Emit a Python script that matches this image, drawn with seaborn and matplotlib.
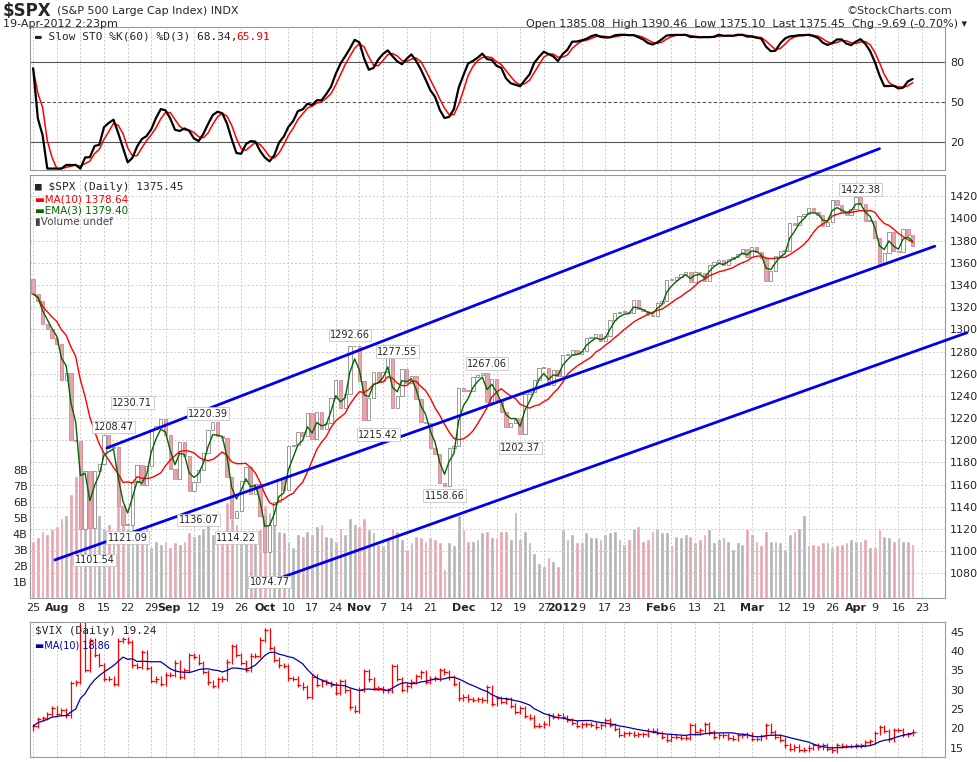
import pandas as pd
import numpy as np
import matplotlib
matplotlib.use("Agg")
import matplotlib.pyplot as plt
import seaborn as sns

# ---------------- data ----------------
holidays = ["2011-09-05", "2011-11-24", "2011-12-26", "2012-01-02",
            "2012-01-16", "2012-02-20", "2012-04-06"]
all_days = pd.bdate_range("2011-07-25", "2012-04-30")
all_days = all_days[~all_days.isin(pd.to_datetime(holidays))]

spx_close = [
    # Jul
    1331.9, 1325.8, 1304.9, 1300.7, 1292.3,
    # Aug
    1287.0, 1254.0, 1260.3, 1200.1, 1199.4, 1119.5, 1172.5, 1120.8, 1172.6, 1178.8,
    1204.5, 1192.8, 1193.9, 1140.7, 1123.5, 1123.8, 1162.4, 1177.6, 1159.3, 1176.8,
    1210.1, 1212.9, 1218.9,
    # Sep
    1204.4, 1173.9, 1165.2, 1198.6, 1185.9, 1154.2, 1162.3, 1172.9, 1188.7, 1209.1,
    1216.0, 1204.1, 1202.1, 1166.8, 1129.6, 1136.4, 1162.9, 1175.4, 1151.1, 1160.4,
    1131.4,
    # Oct
    1099.2, 1123.9, 1144.0, 1164.9, 1155.5, 1194.9, 1195.5, 1207.2, 1203.7, 1224.6,
    1200.9, 1225.4, 1209.9, 1215.4, 1238.3, 1254.2, 1229.1, 1242.0, 1284.6, 1285.1,
    1253.3,
    # Nov
    1218.3, 1237.9, 1261.2, 1253.2, 1261.1, 1275.9, 1229.1, 1239.7, 1263.9, 1251.8,
    1257.8, 1236.9, 1216.1, 1215.7, 1192.9, 1188.0, 1161.8, 1158.7, 1192.6, 1195.2,
    1246.9,
    # Dec
    1244.6, 1244.3, 1257.1, 1258.5, 1261.0, 1234.4, 1255.2, 1236.5, 1225.7, 1211.8,
    1215.8, 1219.7, 1205.4, 1241.3, 1243.7, 1254.0, 1265.3, 1265.4, 1249.6, 1263.0,
    1257.6,
    # Jan
    1277.1, 1277.3, 1281.1, 1277.8, 1280.7, 1292.1, 1292.5, 1295.5, 1289.1, 1293.7,
    1308.0, 1314.5, 1315.4, 1316.0, 1314.7, 1326.1, 1318.4, 1316.3, 1313.0, 1312.4,
    # Feb
    1324.1, 1325.5, 1344.9, 1344.3, 1347.1, 1349.9, 1351.9, 1342.6, 1351.8, 1350.5,
    1343.2, 1358.0, 1361.2, 1362.2, 1357.7, 1363.5, 1365.7, 1367.6, 1372.2, 1365.7,
    # Mar
    1374.1, 1369.6, 1364.3, 1343.4, 1352.6, 1366.0, 1370.9, 1371.1, 1395.9, 1394.3,
    1402.6, 1404.2, 1409.8, 1405.5, 1402.9, 1392.8, 1397.1, 1416.5, 1412.5, 1405.5,
    1403.3, 1408.5,
    # Apr
    1419.0, 1413.4, 1398.0, 1398.1, 1382.2, 1358.6, 1368.7, 1387.6, 1370.3, 1369.6,
    1390.8, 1385.1, 1375.5,
]

spx_volume_b = [
    3.6, 3.8, 4.2, 4.0, 4.3,
    4.5, 5.0, 5.2, 6.5, 7.6, 8.2, 7.2, 7.8, 6.1, 5.2, 4.4, 4.6, 4.0, 5.8, 5.4,
    4.4, 4.6, 3.9, 3.8, 4.5, 3.2, 3.6, 3.4,
    3.6, 3.2, 3.5, 3.4, 3.6, 4.1, 3.9, 4.0, 4.4, 4.7, 4.0, 3.8, 4.0, 6.0, 5.0,
    4.6, 4.2, 4.0, 4.2, 4.1, 4.3,
    5.8, 5.4, 4.8, 4.2, 4.1, 3.6, 3.2, 4.0, 3.9, 4.2, 4.0, 4.5, 4.6, 3.9, 3.8,
    3.6, 4.4, 4.0, 5.0, 4.6, 4.5,
    5.0, 4.3, 4.1, 3.4, 3.3, 3.7, 4.4, 4.2, 3.7, 3.1, 3.5, 3.9, 3.8, 3.6, 3.8,
    3.7, 3.5, 1.8, 3.5, 3.3, 5.2,
    4.3, 3.6, 3.6, 3.7, 4.1, 4.2, 3.8, 3.8, 4.2, 4.2, 3.7, 5.4, 3.7, 4.2, 3.5,
    2.8, 2.2, 2.0, 2.6, 2.3, 2.0,
    4.3, 3.7, 4.0, 3.5, 3.5, 4.1, 3.8, 3.8, 3.7, 4.0, 4.1, 4.2, 3.7, 3.4, 3.7,
    4.4, 4.5, 3.6, 3.7, 4.2,
    4.4, 4.1, 4.1, 3.3, 3.9, 3.8, 4.0, 3.9, 3.5, 3.7, 4.0, 4.3, 3.5, 3.7, 3.8,
    3.6, 3.1, 3.5, 3.4, 4.3,
    4.0, 3.6, 3.3, 4.2, 3.6, 3.6, 3.5, 3.1, 4.0, 4.2, 4.4, 5.2, 3.3, 3.4, 3.3,
    3.5, 3.5, 3.2, 3.3, 3.4, 3.5, 3.7,
    3.6, 3.6, 3.7, 3.2, 3.2, 4.3, 3.9, 3.8, 3.6, 3.8, 3.6, 3.6, 3.4,
]

vix_close = [
    20.6, 22.4, 22.7, 23.7, 25.3,
    23.7, 24.8, 23.4, 31.7, 32.0, 48.0, 35.1, 42.9, 39.0, 36.4, 32.9, 32.9, 31.6,
    42.7, 43.1, 42.4, 36.3, 35.9, 39.8, 35.6, 32.3, 32.9, 31.6,
    33.9, 33.9, 37.0, 33.4, 35.1, 39.0, 38.6, 36.9, 34.6, 31.9, 31.0, 32.7, 32.9,
    37.3, 41.3, 39.0, 37.0, 35.2, 38.8, 38.8, 43.0,
    45.5, 40.8, 37.8, 36.3, 36.2, 33.0, 32.9, 31.3, 30.6, 28.2, 33.4, 31.3, 32.2,
    31.8, 31.3, 29.3, 32.2, 29.9, 25.5, 24.5, 30.0,
    34.8, 32.7, 30.5, 30.5, 29.9, 29.9, 36.2, 32.8, 30.0, 31.1, 32.1, 33.5, 34.5,
    32.0, 32.9, 33.0, 35.0, 34.5, 33.2, 31.6, 27.8,
    28.2, 27.5, 27.4, 27.5, 27.3, 30.6, 26.4, 27.8, 26.9, 27.6, 25.9, 24.3, 25.2,
    23.2, 22.8, 20.7, 20.7, 21.2, 23.5, 23.0, 23.4,
    23.0, 22.2, 21.5, 20.6, 21.1, 21.1, 21.0, 20.5, 20.9, 22.2, 20.9, 19.9, 18.3,
    18.7, 18.8, 18.3, 18.5, 18.5, 19.4, 19.4,
    18.8, 17.9, 17.1, 17.9, 17.8, 17.6, 17.6, 20.8, 19.0, 19.5, 21.1, 19.0, 17.8,
    18.2, 18.2, 17.6, 17.3, 18.2, 18.2, 18.4,
    17.3, 17.3, 18.0, 20.9, 19.1, 17.9, 17.1, 15.6, 14.8, 15.3, 14.5, 14.5, 15.0,
    15.6, 15.1, 15.6, 14.8, 14.3, 15.6, 15.5, 15.5, 15.5,
    15.6, 15.7, 16.4, 16.7, 18.8, 20.4, 19.3, 17.2, 19.6, 19.6, 18.5, 18.6, 19.2,
]

# axis tick labels (date, text)
tick_dates = ["2011-07-25", "2011-08-01", "2011-08-08", "2011-08-15", "2011-08-22",
              "2011-08-29", "2011-09-01", "2011-09-12", "2011-09-19", "2011-09-26",
              "2011-10-03", "2011-10-10", "2011-10-17", "2011-10-24", "2011-10-31",
              "2011-11-07", "2011-11-14", "2011-11-21", "2011-12-01", "2011-12-12",
              "2011-12-19", "2011-12-27", "2012-01-03", "2012-01-09", "2012-01-17",
              "2012-01-23", "2012-02-01", "2012-02-06", "2012-02-13", "2012-02-21",
              "2012-03-01", "2012-03-12", "2012-03-19", "2012-03-26", "2012-04-02",
              "2012-04-09", "2012-04-16", "2012-04-23"]
tick_texts = ["25", "Aug", "8", "15", "22", "29", "Sep", "12", "19", "26",
              "Oct", "10", "17", "24", "Nov", "7", "14", "21", "Dec", "12",
              "19", "27", "2012", "9", "17", "23", "Feb", "6", "13", "21",
              "Mar", "12", "19", "26", "Apr", "9", "16", "23"]
bold_ticks = {"Aug", "Sep", "Oct", "Nov", "Dec", "2012", "Feb", "Mar", "Apr"}

# price annotations (day index, price position, label)
ann_idx = [17, 21, 37, 13, 20, 35, 43, 50, 67, 77, 73, 96, 87, 103, 175]
ann_y = [1212, 1234, 1224, 1092, 1112, 1128, 1112, 1072, 1295, 1280, 1205, 1269, 1150, 1193, 1426]
ann_txt = ["1208.47", "1230.71", "1220.39", "1101.54", "1121.09", "1136.07", "1114.22",
           "1074.77", "1292.66", "1277.55", "1215.42", "1267.06", "1158.66", "1202.37", "1422.38"]

# trend lines (start idx, start price, end idx, end price)
trend_lines = [(15.6, 1193, 179, 1463),
               (4.6, 1092, 190.7, 1375),
               (50.5, 1073, 197.5, 1297)]

# ---------------- frame ----------------
n = len(spx_close)
assert len(spx_volume_b) == n and len(vix_close) == n
dates = all_days[:n]
df = pd.DataFrame({"i": np.arange(n), "close": spx_close, "vol": spx_volume_b, "vix": vix_close}, index=dates)
df["open"] = df["close"].shift(1).fillna(1345.0)
df["ma10"] = df["close"].rolling(10, min_periods=1).mean()
df["ema3"] = df["close"].ewm(span=3, adjust=False).mean()
lo = df["close"].rolling(60, min_periods=1).min()
hi = df["close"].rolling(60, min_periods=1).max()
raw = ((df["close"] - lo) / (hi - lo).replace(0, np.nan) * 100).fillna(75)
df["k"] = raw.rolling(3, min_periods=1).mean()
df["d"] = df["k"].rolling(3, min_periods=1).mean()
df["vopen"] = df["vix"].shift(1).fillna(20.0)
df["vma"] = df["vix"].rolling(10, min_periods=1).mean()

pos_of = {d: k for k, d in enumerate(all_days)}
tick_pos = [pos_of[pd.Timestamp(t)] for t in tick_dates]

sns.set_style("white")
plt.rcParams["font.family"] = ["DejaVu Sans"]
fig = plt.figure(figsize=(9.77, 7.62), dpi=100)
L, W = 0.031, 0.936
ax_sto = fig.add_axes([L, 0.777, W, 0.187])
ax = fig.add_axes([L, 0.215, W, 0.555])
ax_vix = fig.add_axes([L, 0.007, W, 0.177])
xlim = (-0.6, 192.8)

def style(a):
    a.set_xlim(*xlim)
    a.set_xticks(tick_pos)
    a.tick_params(axis="x", length=0, labelbottom=False)
    a.yaxis.tick_right()
    a.tick_params(axis="y", length=0, labelsize=8, pad=4)
    a.grid(True, axis="x", color="#cccccc", ls=(0, (2, 2)), lw=0.7)
    for s in a.spines.values():
        s.set_color("#999999")
        s.set_linewidth(0.8)

# ---- STO panel
style(ax_sto)
ax_sto.set_ylim(-1, 105.5)
ax_sto.set_yticks([20, 50, 80])
for lvl, st in [(20, "-"), (80, "-"), (50, (0, (3, 2)))]:
    ax_sto.axhline(lvl, color="#555555", lw=0.8, ls=st)
sns.lineplot(data=df, x="i", y="d", ax=ax_sto, color="red", lw=1.1)
sns.lineplot(data=df, x="i", y="k", ax=ax_sto, color="black", lw=1.6)
ax_sto.set_xlabel(""); ax_sto.set_ylabel("")
ax_sto.text(0.005, 0.97, "▬ Slow STO %K(60) %D(3) 68.34,", transform=ax_sto.transAxes,
            fontsize=8, va="top", family="DejaVu Sans Mono")
ax_sto.text(0.225, 0.97, "65.91", transform=ax_sto.transAxes, fontsize=8, va="top",
            color="red", family="DejaVu Sans Mono")

# ---- main panel
axv = ax.twinx()
style(ax)
ax.grid(True, axis="y", color="#cccccc", ls=(0, (2, 2)), lw=0.7)
ax.set_ylim(1057.5, 1439)
ax.set_yticks(np.arange(1080, 1421, 20))
axv.set_xlim(*xlim)
axv.set_ylim(0, 26.4)
vcol = np.where(df["close"] < df["open"], "#e8a4ac", "#b4b4b4")
axv.bar(df["i"], df["vol"], width=0.8, color=vcol, zorder=1)
axv.yaxis.tick_left()
axv.set_yticks(range(1, 9))
axv.set_yticklabels([f"{v}B" for v in range(1, 9)])
axv.tick_params(axis="y", length=0, labelsize=8, pad=2)
for s in axv.spines.values():
    s.set_visible(False)
ax.set_zorder(axv.get_zorder() + 1)
ax.patch.set_visible(False)
ax.yaxis.tick_right()

body = (df["close"] - df["open"]).abs().clip(lower=0.8)
bot = df[["close", "open"]].min(axis=1)
up = df["close"] >= df["open"]
ax.bar(df["i"][up], body[up], bottom=bot[up], width=0.7, color="white", edgecolor="#888888", lw=0.6)
ax.bar(df["i"][~up], body[~up], bottom=bot[~up], width=0.7, color="#e8a4ac", edgecolor="#d08890", lw=0.6)
sns.lineplot(data=df, x="i", y="ma10", ax=ax, color="red", lw=1.0)
sns.lineplot(data=df, x="i", y="ema3", ax=ax, color="#006600", lw=1.0)
ax.set_xlabel(""); ax.set_ylabel("")
for x0, y0, x1, y1 in trend_lines:
    ax.plot([x0, x1], [y0, y1], color="#0000ee", lw=2, clip_on=False, zorder=5)
for xi, yi, t in zip(ann_idx, ann_y, ann_txt):
    ax.text(xi, yi, t, fontsize=7, ha="center", va="center", zorder=6,
            bbox=dict(fc="white", ec="#bbbbbb", lw=0.5, pad=1))
ax.text(0.005, 0.985, "■ $SPX (Daily) 1375.45", transform=ax.transAxes, fontsize=8, va="top",
        family="DejaVu Sans Mono", zorder=7)
ax.text(0.005, 0.955, "▬MA(10) 1378.64", transform=ax.transAxes, fontsize=7.5, va="top", color="red", zorder=7)
ax.text(0.005, 0.928, "▬EMA(3) 1379.40", transform=ax.transAxes, fontsize=7.5, va="top", color="#006600", zorder=7)
ax.text(0.005, 0.901, "▮Volume undef", transform=ax.transAxes, fontsize=7.5, va="top", color="#444444", zorder=7)
for p, t in zip(tick_pos, tick_texts):
    if t in bold_ticks:
        ax.text(p + (0.8 if t == "Sep" else 0), -0.012, t, transform=ax.get_xaxis_transform(),
                ha="center", va="top", fontsize=8, fontweight="bold")
    else:
        ax.text(p, -0.012, t, transform=ax.get_xaxis_transform(), ha="center", va="top", fontsize=8)

# ---- VIX panel
style(ax_vix)
ax_vix.set_ylim(12.7, 47.6)
ax_vix.set_yticks([15, 20, 25, 30, 35, 40, 45])
vhi = df[["vix", "vopen"]].max(axis=1) + 0.6
vlo = df[["vix", "vopen"]].min(axis=1) - 0.6
ax_vix.vlines(df["i"], vlo, vhi, color="red", lw=0.9)
ax_vix.scatter(df["i"] + 0.3, df["vix"], marker="_", s=8, color="red", lw=0.9)
sns.lineplot(data=df, x="i", y="vma", ax=ax_vix, color="#0000aa", lw=0.9)
ax_vix.set_xlabel(""); ax_vix.set_ylabel("")
ax_vix.text(0.005, 0.97, "$VIX (Daily) 19.24", transform=ax_vix.transAxes, fontsize=8, va="top",
            family="DejaVu Sans Mono")
ax_vix.text(0.005, 0.86, "▬MA(10) 18.86", transform=ax_vix.transAxes, fontsize=7, va="top", color="#0000aa")

# ---- header
fig.text(0.003, 0.985, "$SPX", fontsize=12, fontweight="bold", va="center")
fig.text(0.058, 0.985, "(S&P 500 Large Cap Index) INDX", fontsize=8, va="center")
fig.text(0.003, 0.969, "19-Apr-2012 2:23pm", fontsize=8, va="center")
fig.text(0.975, 0.985, "©StockCharts.com", fontsize=8, va="center", ha="right", color="#333333")
fig.text(0.99, 0.969, "Open 1385.08  High 1390.46  Low 1375.10  Last 1375.45  Chg -9.69 (-0.70%) ▾",
         fontsize=8, va="center", ha="right")

fig.savefig("out.png", dpi=100)
